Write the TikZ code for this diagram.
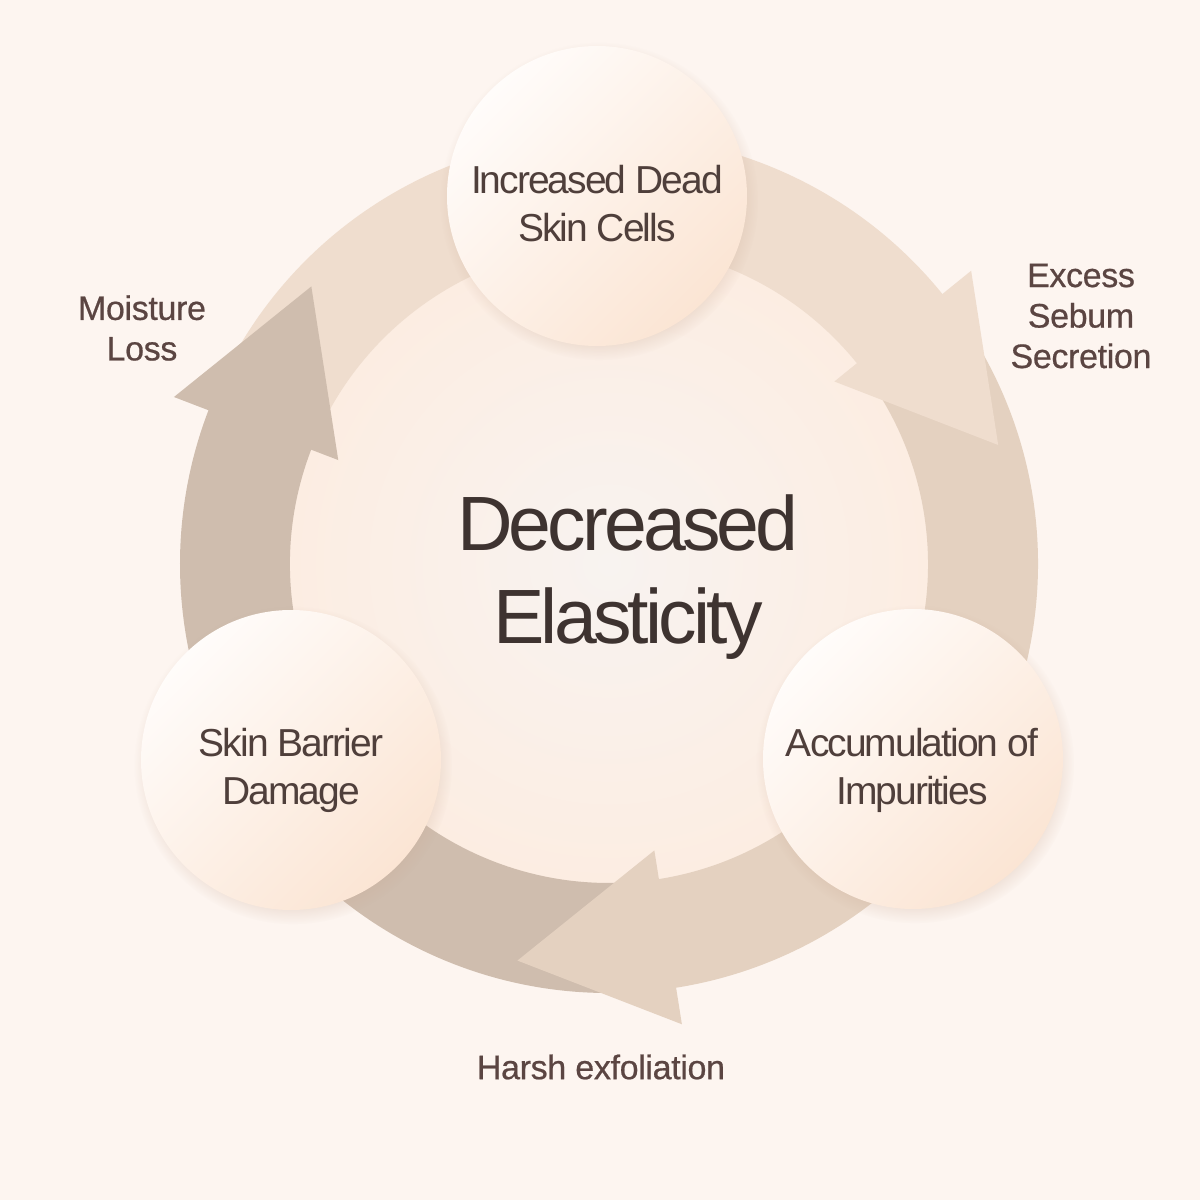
\documentclass[tikz,border=0pt]{standalone}
\usepackage{fontspec}
\setmainfont{Liberation Sans}
\newfontfamily\titlefont[LetterSpace=-5]{Liberation Sans}
\newfontfamily\bubblefont[LetterSpace=-5]{Liberation Sans}
\newfontfamily\causefont[LetterSpace=-1,FakeBold=0.6]{Liberation Sans}
\usetikzlibrary{shadows,fadings}
\definecolor{bgcream}{HTML}{FDF5F0}
\definecolor{innermid}{HTML}{F8F3F0}
\definecolor{inneredge}{HTML}{FCEDE2}
\definecolor{segtop}{HTML}{EFDDCE}
\definecolor{segright}{HTML}{E4D1C0}
\definecolor{segleft}{HTML}{CFBDAE}
\definecolor{bubblelight}{HTML}{FFFCFA}
\definecolor{bubblepeach}{HTML}{FBE5D4}
\definecolor{bubbleshadow}{HTML}{C9A994}
\definecolor{titleink}{HTML}{3E3330}
\definecolor{bubbleink}{HTML}{4F3F3B}
\definecolor{causeink}{HTML}{5B4542}
\begin{document}
\begin{tikzpicture}[x=1pt,y=1pt,
    bubble/.style={circle,minimum size=300pt,inner sep=0pt,
      top color=bubblelight,bottom color=bubblepeach,shading angle=45,
      circular drop shadow={shadow scale=1.06,shadow xshift=2pt,shadow yshift=-5pt,
        fill=bubbleshadow,opacity=0.35}},
    bubbletext/.style={align=center,text=bubbleink,font=\bubblefont\fontsize{39}{48}\selectfont},
    cause/.style={align=center,text=causeink,font=\causefont\fontsize{34}{40.5}\selectfont},
    title/.style={align=center,text=titleink,font=\titlefont\fontsize{77}{93}\selectfont}]
  % Bakgrund
  \fill[bgcream] (-609,-636) rectangle (591,564);
  \useasboundingbox (-609,-636) rectangle (591,564);
  \shade[inner color=innermid,outer color=inneredge] (0,0) circle (320);
  % Ringens bagar
  \foreach \a/\c in {39/segtop,-81/segright,159/segleft}
    \fill[\c] (\a+116:429) arc[start angle=\a+116,end angle=\a-1,radius=429]
      -- (\a-1:319) arc[start angle=\a-1,end angle=\a+116,radius=319] -- cycle;
  % Pilspetsar
  \foreach \a/\c in {39/segtop,-81/segright,159/segleft}
    \fill[\c] (\a:466) -- (\a-22:407) -- (\a:290) -- cycle;
  % Cirklar
  \node[bubble] (dead) at (-12,368) {};
  \node[bubble] (imp) at (304,-195) {};
  \node[bubble] (barrier) at (-318,-196) {};
  \node[bubbletext] (deadtxt) at (-12,360) {Increased Dead\\Skin Cells};
  \node[bubbletext] (imptxt) at (303,-206) {Accumulation of\\Impurities};
  \node[bubbletext] (barriertxt) at (-318,-206) {Skin Barrier\\Damage};
  % Mitten
  \node[title] (elast) at (19,-13) {Decreased\\Elasticity};
  % Orsaker
  \node[cause] (moist) at (-467,236) {Moisture\\Loss};
  \node[cause] (sebum) at (472,248) {Excess\\Sebum\\Secretion};
  \node[cause] (harsh) at (-8,-503) {Harsh exfoliation};
\end{tikzpicture}
\end{document}
